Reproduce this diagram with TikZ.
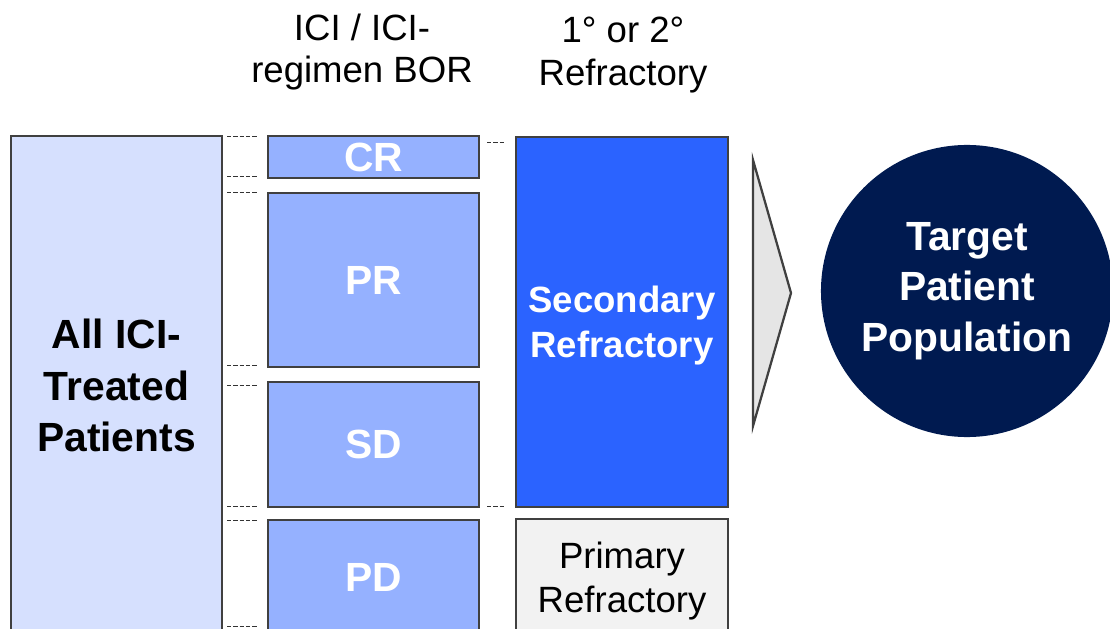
\documentclass[tikz,border=0pt]{standalone}
\usepackage{fontspec}
\setmainfont{Liberation Sans}

\definecolor{boxline}{HTML}{404040}
\definecolor{allfill}{HTML}{D6E0FE}
\definecolor{borfill}{HTML}{95B1FF}
\definecolor{secfill}{HTML}{2B63FF}
\definecolor{prifill}{HTML}{F2F2F2}
\definecolor{navy}{HTML}{001A50}

\tikzstyle{cohort}=[draw=boxline,line width=1.6pt,inner sep=0pt,align=center,minimum width=5.275cm]
\tikzstyle{bor}=[cohort,fill=borfill,text=white,font=\fontsize{29}{36}\selectfont\bfseries]
\tikzstyle{header}=[align=center,font=\fontsize{26}{30}\selectfont]
\tikzstyle{tick}=[black!80,line width=0.7pt,dash pattern=on 3pt off 1.5pt]

\begin{document}
\begin{tikzpicture}[x=0.025cm,y=-0.025cm]
  \useasboundingbox (0,0) rectangle (1110,629);
  \clip (0,0) rectangle (1110,629);
  % column headers
  \node (bhead) [header] at (362,52) {ICI / ICI-\\regimen BOR};
  \node (rhead) [header] at (623,55) {1\textdegree{} or 2\textdegree{}\\Refractory};
  % all patients
  \node (all) [cohort,fill=allfill,minimum height=12.475cm,
    font=\fontsize{29}{36.5}\selectfont\bfseries] at (116.5,385.5) {All ICI-\\Treated\\Patients};
  % best overall response
  \node (CR) [bor,minimum height=1.05cm] at (373.5,157) {CR};
  \node (PR) [bor,minimum height=4.35cm] at (373.5,280) {PR};
  \node (SD) [bor,minimum height=3.125cm] at (373.5,444.5) {SD};
  \node (PD) [bor,minimum height=2.875cm] at (373.5,577.5) {PD};
  % refractory split
  \node (sec) [cohort,fill=secfill,minimum width=5.3cm,minimum height=9.25cm,text=white,
    text depth=0pt,font=\fontsize{26}{32}\selectfont\bfseries] at (622,322) {Secondary\\Refractory};
  \node (pri) [cohort,fill=prifill,minimum width=5.3cm,minimum height=2.9cm,
    text depth=0pt,font=\fontsize{26}{31}\selectfont] at (622,577) {Primary\\Refractory};
  % arrow and target
  \draw[boxline,line width=1.6pt,fill=black!10,line join=miter]
    (753,160) -- (791,293) -- (753,426) -- cycle;
  \node (target) [circle,fill=navy,minimum size=7.3cm,inner sep=0pt,text=white,
    align=center,font=\fontsize{29}{36}\selectfont\bfseries] at (967,291)
    {Target\\Patient\\Population};
  % dashed guides
  \foreach \y in {136,176,192,365,385,506,520,626}
    \draw[tick] (227,\y) -- (258,\y);
  \foreach \y in {142,506}
    \draw[tick] (487,\y) -- (505,\y);
\end{tikzpicture}
\end{document}
